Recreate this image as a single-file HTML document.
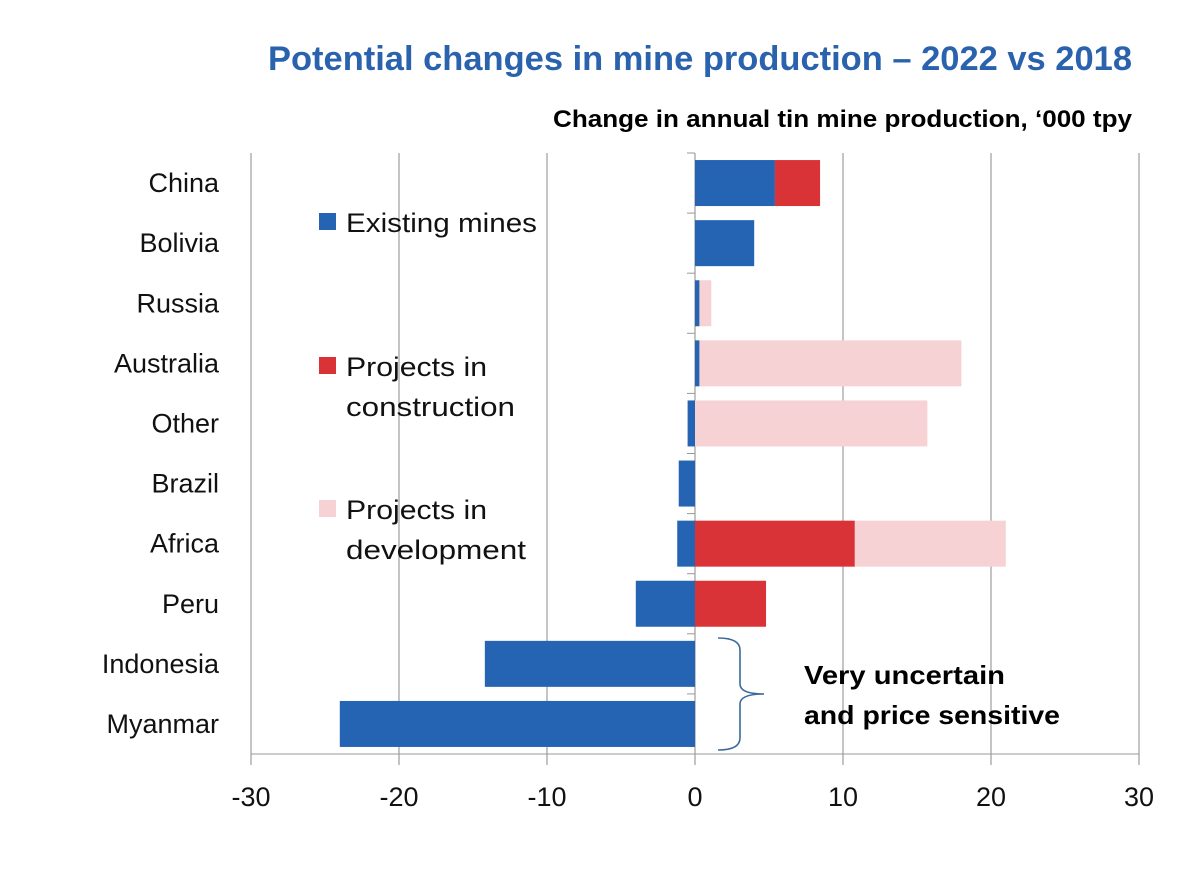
<!DOCTYPE html>
<html><head><meta charset="utf-8"><style>
html,body{margin:0;padding:0;background:#fff;width:1184px;height:874px;overflow:hidden}
svg{display:block;font-family:"Liberation Sans","DejaVu Sans",sans-serif}
</style></head><body>
<svg id="chart" width="1184" height="874">
<text x="268" y="70" textLength="864" lengthAdjust="spacingAndGlyphs" font-size="34" font-weight="bold" fill="#2a62ad">Potential changes in mine production – 2022 vs 2018</text>
<text x="553" y="127" textLength="579" lengthAdjust="spacingAndGlyphs" font-size="24" font-weight="bold" fill="#000">Change in annual tin mine production, ‘000 tpy</text>
<g id="grid"></g><g id="bars"></g><g id="labels"></g>
<g font-size="27" fill="#111">
<rect x="319" y="213" width="17" height="17" fill="#2563b3"/>
<text x="346" y="232" textLength="191" lengthAdjust="spacingAndGlyphs">Existing mines</text>
<rect x="319" y="357" width="17" height="17" fill="#d93338"/>
<text x="346" y="376" textLength="141" lengthAdjust="spacingAndGlyphs">Projects in</text>
<text x="346" y="416" textLength="169" lengthAdjust="spacingAndGlyphs">construction</text>
<rect x="319" y="500" width="17" height="17" fill="#f6d2d4"/>
<text x="346" y="519" textLength="141" lengthAdjust="spacingAndGlyphs">Projects in</text>
<text x="346" y="559" textLength="180" lengthAdjust="spacingAndGlyphs">development</text>
</g>
<path d="M718 638 Q740 638 740 650 L740 684 Q740 694 764 694 Q740 694 740 704 L740 738 Q740 750 718 750" fill="none" stroke="#3a6a9a" stroke-width="1.6"/>
<text x="804" y="684" textLength="201" lengthAdjust="spacingAndGlyphs" font-size="26" font-weight="bold" fill="#000">Very uncertain</text>
<text x="804" y="724" textLength="256" lengthAdjust="spacingAndGlyphs" font-size="26" font-weight="bold" fill="#000">and price sensitive</text>
</svg>
<script>
const categories=["China","Bolivia","Russia","Australia","Other","Brazil","Africa","Peru","Indonesia","Myanmar"];
const existing=[5.4,4,0.3,0.3,-0.5,-1.1,-1.2,-4,-14.2,-24];
const construction=[3.05,0,0,0,0,0,10.8,4.8,0,0];
const development=[0,0,0.8,17.7,15.7,0,10.2,0,0,0];
const ticks=[-30,-20,-10,0,10,20,30];
const NS="http://www.w3.org/2000/svg";
const x=v=>695+v*14.8, top0=153, band=60.1, barH=46;
const y=i=>top0+i*band+(band-barH)/2;
function mk(t,a,p){const e=document.createElementNS(NS,t);for(const k in a)e.setAttribute(k,a[k]);p.appendChild(e);return e;}
const grid=document.getElementById('grid'),bars=document.getElementById('bars'),labels=document.getElementById('labels');
ticks.forEach(t=>{
 const l=mk('line',{x1:x(t),x2:x(t),y1:top0,y2:765,stroke:'#8a8a8a','stroke-width':1},grid);
 
 
 const tx=mk('text',{x:x(t),y:806,'text-anchor':'middle','font-size':27,fill:'#111'},labels);
 tx.textContent=t;
 
 
});
const ax=mk('line',{x1:251,x2:1139,y1:754,y2:754,stroke:'#999'},grid);


for(let i=0;i<=categories.length;i++){const tk=mk('line',{x1:687,x2:695,y1:top0+i*band,y2:top0+i*band,stroke:'#999'},grid);
 
 }
categories.forEach((c,i)=>{
 const tx=mk('text',{x:219,y:y(i)+barH/2+9,'text-anchor':'end','font-size':27,fill:'#111'},labels);
 tx.textContent=c;
 
 
 const e=existing[i];
 const r1=mk('rect',{x:Math.min(x(0),x(e)),y:y(i),width:Math.abs(x(e)-x(0)),height:barH,fill:'#2563b3'},bars);
 
 
 let s=Math.max(e,0);
 const r2=mk('rect',{x:x(s),y:y(i),width:construction[i]*14.8,height:barH,fill:'#d93338'},bars);
 
 
 s+=construction[i];
 const r3=mk('rect',{x:x(s),y:y(i),width:development[i]*14.8,height:barH,fill:'#f6d2d4'},bars);
 
 
});
</script>
</body></html>
